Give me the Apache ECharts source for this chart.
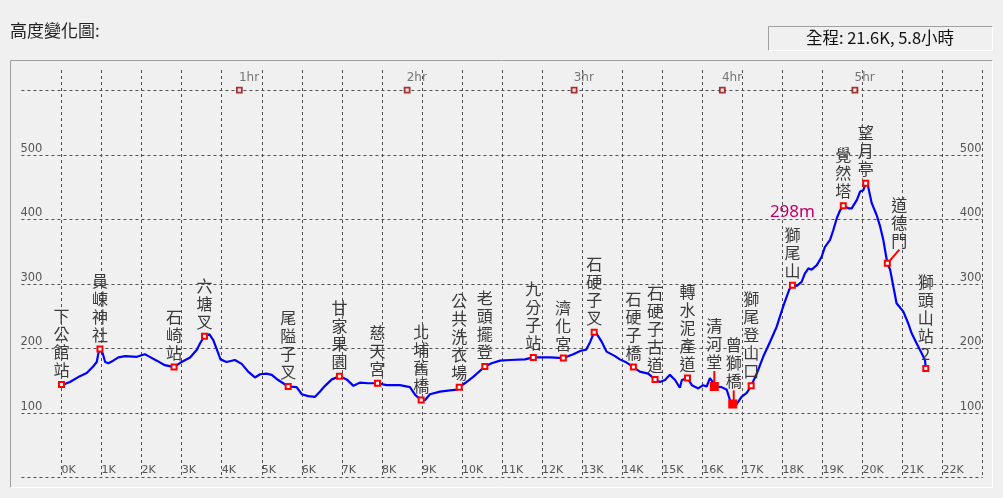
<!DOCTYPE html>
<html>
<head>
<meta charset="utf-8">
<script src="https://cdn.jsdelivr.net/npm/echarts@6/dist/echarts.min.js"></script>
<style>
html,body{margin:0;padding:0;background:#f0f0f0;}
#chart{width:1003px;height:498px;}
</style>
</head>
<body>
<div id="chart"></div>
<script>
// ---- profile (km, elevation m) ----
const distances = [0.00,0.05,0.21,0.46,0.63,0.79,0.88,0.92,0.96,1.03,1.09,1.17,1.29,1.42,1.59,1.88,2.08,2.17,2.38,2.58,2.81,3.00,3.21,3.38,3.46,3.57,3.69,3.79,3.88,3.97,4.12,4.33,4.50,4.66,4.83,4.96,5.12,5.25,5.41,5.66,5.87,6.00,6.16,6.33,6.45,6.58,6.75,6.94,7.12,7.29,7.45,7.66,7.89,8.12,8.45,8.70,8.83,8.98,9.08,9.20,9.45,9.70,9.88,9.93,10.07,10.28,10.57,10.74,10.95,11.20,11.57,11.78,12.20,12.53,12.78,12.95,13.10,13.20,13.30,13.36,13.49,13.61,13.82,13.94,14.11,14.28,14.44,14.65,14.82,14.94,15.07,15.19,15.32,15.44,15.49,15.63,15.74,15.90,16.02,16.11,16.19,16.26,16.30,16.48,16.61,16.69,16.76,16.84,16.98,17.11,17.22,17.36,17.52,17.69,17.86,18.02,18.17,18.25,18.36,18.48,18.56,18.65,18.73,18.86,18.98,19.06,19.19,19.27,19.36,19.44,19.52,19.65,19.73,19.86,19.94,20.02,20.08,20.14,20.23,20.35,20.44,20.52,20.62,20.69,20.77,20.85,21.02,21.14,21.23,21.35,21.48,21.56,21.58];
const elevations = [144,144,148,157,162,172,179,192,199,192,179,177,181,186,188,187,191,188,181,174,171,179,186,198,208,219,222,213,198,183,179,182,176,164,155,160,161,159,151,141,140,129,126,125,133,142,152,157,152,142,147,146,146,143,143,140,128,120,120,129,133,135,136,140,146,156,172,177,181,182,183,186,186,185,191,196,198,210,225,223,210,195,188,183,178,171,164,161,152,148,151,159,151,139,151,154,143,138,143,141,154,148,141,140,136,120,114,112,125,131,142,161,187,210,234,265,291,298,297,303,316,324,322,329,342,357,368,383,402,414,421,417,417,430,443,445,456,451,425,407,389,368,332,322,296,270,257,239,223,208,192,182,169];

// ---- named stops ----
const stopNames = ['下公館站','員崠神社','石崎站','六塘叉','尾隘子叉','甘家果園','慈天宮','北埔舊橋','公共洗衣場','老頭擺登','九分子站','濟化宮','石硬子叉','石硬子橋','石硬子古道','轉水泥產道','清河堂','曾獅橋','獅尾登山口','獅尾山','覺然塔','望月亭','道德門','獅頭山站2'];
const stopKm = [0.00,0.96,2.81,3.57,5.66,6.94,7.89,8.98,9.93,10.57,11.78,12.53,13.30,14.28,14.82,15.63,16.30,16.76,17.22,18.25,19.52,20.08,20.62,21.58];
const stopElev = [144,199,171,219,141,157,146,120,140,172,186,185,225,171,152,154,141,114,142,298,421,456,332,169];
const stopNotes = ['','','','','','','','','','','','','','','','','','','','298m','','','',''];

// ---- hour markers ----
const hourLabels = ['1hr','2hr','3hr','4hr','5hr'];
const hourKm = [4.44,8.63,12.80,16.50,19.81];
const hourElev = 600;

// ---- header texts ----
const chartTitle = '高度變化圖:';
const summaryText = '全程: 21.6K, 5.8小時';

// ---- axis ticks ----
const yTickLabels = [100,200,300,400,500];
const xMin = -1, xMax = 23, xLastLabel = 22;
const yMin = 0, yMax = 631.3;

const labelShift = {
  '清河堂': {dx: 0, dy: -9},
  '曾獅橋': {dx: 1, dy: -7},
  '道德門': {dx: 12, dy: -8}
};

const chart = echarts.init(document.getElementById('chart'), null, {renderer: 'canvas'});

const cjk = '"Noto Sans CJK TC","Noto Sans CJK SC",sans-serif';
const axisFont = '"DejaVu Sans",sans-serif';
const gridColor = '#505050';

const option = {
  animation: false,
  backgroundColor: '#f0f0f0',
  title: [
    {text: chartTitle, left: 10, top: 22, padding: 0,
     textStyle: {fontFamily: cjk, fontSize: 17, fontWeight: 'normal', color: '#222'}},
    {text: summaryText, left: 880, top: 29, textAlign: 'center', padding: 0,
     textStyle: {fontFamily: cjk, fontSize: 16.5, fontWeight: 'normal', color: '#111'}}
  ],
  graphic: [
    {type: 'polyline', silent: true, shape: {points: [[10.5,487.5],[10.5,60.5],[992.5,60.5]]}, style: {stroke: '#a0a0a0', fill: null, lineWidth: 1}},
    {type: 'polyline', silent: true, shape: {points: [[992.5,60.5],[992.5,487.5],[10.5,487.5]]}, style: {stroke: '#ffffff', fill: null, lineWidth: 1}},
    {type: 'polyline', silent: true, shape: {points: [[768.5,50.5],[768.5,26.5],[992.5,26.5]]}, style: {stroke: '#a0a0a0', fill: null, lineWidth: 1}},
    {type: 'polyline', silent: true, shape: {points: [[992.5,26.5],[992.5,50.5],[768.5,50.5]]}, style: {stroke: '#ffffff', fill: null, lineWidth: 1}}
  ],
  grid: {left: 21.45, right: 20.35, top: 70, bottom: 20.5, containLabel: false},
  xAxis: {
    type: 'value', min: xMin, max: xMax, interval: 1,
    axisLine: {show: false}, axisTick: {show: false},
    axisLabel: {
      inside: true, margin: 2, align: 'left', color: '#555', fontFamily: axisFont, fontSize: 11,
      formatter: v => (v >= 0 && v <= xLastLabel) ? v + 'K' : ''
    },
    splitLine: {show: true, showMinLine: false, showMaxLine: true, lineStyle: {color: gridColor, type: [3,3], width: 1}}
  },
  yAxis: [
    {
      type: 'value', position: 'left', min: yMin, max: yMax, interval: 100,
      axisLine: {show: false}, axisTick: {show: false},
      axisLabel: {
        inside: true, margin: -1, align: 'left', verticalAlign: 'bottom', color: '#555', fontFamily: axisFont, fontSize: 11.5,
        formatter: v => yTickLabels.indexOf(v) >= 0 ? String(v) : ''
      },
      splitLine: {show: true, showMaxLine: false, lineStyle: {color: gridColor, type: [3,3], width: 1}}
    },
    {
      type: 'value', position: 'right', min: yMin, max: yMax, interval: 100,
      axisLine: {show: false}, axisTick: {show: false},
      axisLabel: {
        inside: true, margin: 1, align: 'right', verticalAlign: 'bottom', color: '#555', fontFamily: axisFont, fontSize: 11.5,
        formatter: v => yTickLabels.indexOf(v) >= 0 ? String(v) : ''
      },
      splitLine: {show: false}
    }
  ],
  series: [
    {
      type: 'line', name: 'profile', showSymbol: false, symbol: 'none', z: 3,
      data: distances.map((d, i) => [d, elevations[i]]),
      lineStyle: {color: '#0000ff', width: 2.2}
    },
    {
      type: 'scatter', name: 'stops', z: 4,
      symbol: 'rect', symbolSize: 5,
      itemStyle: {color: '#ffffff', borderColor: '#ff0000', borderWidth: 2, opacity: 1},
      data: stopNames.map((n, i) => {
        const item = {name: n, value: [stopKm[i], stopElev[i]]};
        if (labelShift[n]) {
          item.labelLine = {show: true, lineStyle: {color: '#ff0000', width: 2}};
          if (n !== '道德門') { item.itemStyle = {color: '#ff0000'}; item.symbolSize = 7; }
        }
        return item;
      }),
      label: {
        show: true, position: 'top', distance: 2,
        fontFamily: cjk, fontSize: 16, lineHeight: 18, color: '#3a3a3a',
        formatter: p => {
          const chars = p.name.split('').join('\n');
          const note = stopNotes[p.dataIndex];
          return note ? '{e|' + note + '}\n' + chars : chars;
        },
        rich: {e: {color: '#c0006a', fontFamily: '"Noto Sans",sans-serif', fontSize: 17, lineHeight: 26}}
      },
      labelLayout: p => {
        const s = labelShift[stopNames[p.dataIndex]];
        return s ? {dx: s.dx, dy: s.dy} : {};
      }
    },
    {
      type: 'scatter', name: 'hours', z: 4,
      symbol: 'rect', symbolSize: 5,
      itemStyle: {color: '#f0f0f0', borderColor: '#990000', borderWidth: 1.8},
      data: hourKm.map((k, i) => ({name: hourLabels[i], value: [k, hourElev]})),
      label: {
        show: true, position: [3, -3], align: 'left', verticalAlign: 'bottom',
        color: '#555', fontFamily: axisFont, fontSize: 12,
        formatter: p => p.name
      }
    }
  ]
};
chart.setOption(option);
</script>
</body>
</html>
